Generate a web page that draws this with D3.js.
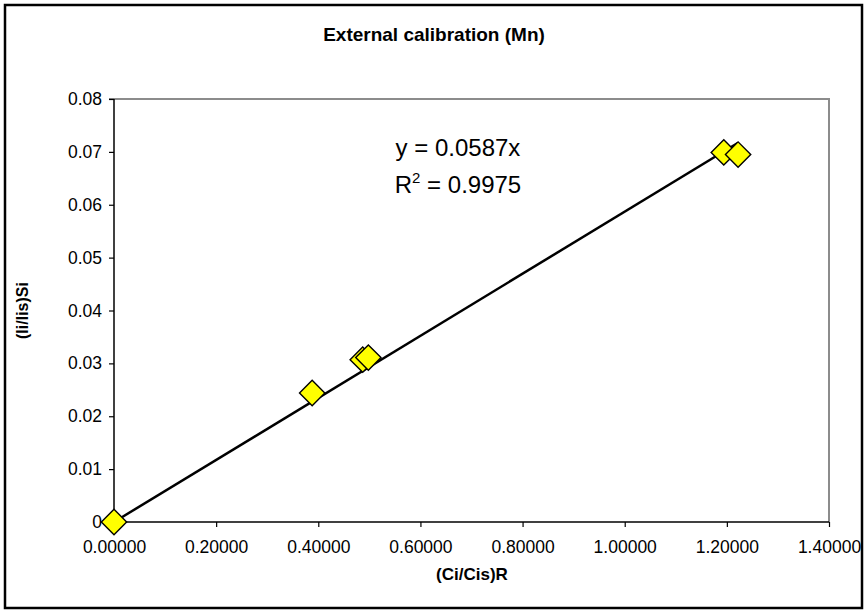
<!DOCTYPE html>
<html>
<head>
<meta charset="utf-8">
<script src="https://d3js.org/d3.v7.min.js"></script>
<style>
html, body { margin: 0; background: #fff; font-family: Arial, 'Liberation Sans', sans-serif; }
svg { display: block; }
.tick text { font-size: 17.5px; font-family: Arial, 'Liberation Sans', sans-serif; fill: #000; }
</style>
</head>
<body>
<script>
// ratio (Ci/Cis)R and signal (Ii/Iis)Si
var xVals = [0.0, 0.388, 0.487, 0.498, 1.194, 1.222];
var yVals = [0.0, 0.0244, 0.0307, 0.0311, 0.0699, 0.0695];
var slope = 0.0587;
var xTicks = [0, 0.2, 0.4, 0.6, 0.8, 1.0, 1.2, 1.4];
var yTicks = [0, 0.01, 0.02, 0.03, 0.04, 0.05, 0.06, 0.07, 0.08];

var W = 868, H = 615;
var margin = {top: 99, right: 39, bottom: 93, left: 114};
var width = W - margin.left - margin.right,
    height = H - margin.top - margin.bottom;

var svg = d3.select("body").append("svg")
  .attr("width", W)
  .attr("height", H);

// outer frame
svg.append("rect")
  .attr("x", 5).attr("y", 5)
  .attr("width", W - 11).attr("height", H - 12)
  .attr("fill", "none").attr("stroke", "#000").attr("stroke-width", 2.5);

var g = svg.append("g")
  .attr("transform", "translate(" + margin.left + "," + margin.top + ")");

var x = d3.scaleLinear().domain([0, 1.4]).range([0, width]);
var y = d3.scaleLinear().domain([0, 0.08]).range([height, 0]);

// plot area frame: gray top/right
g.append("path")
  .attr("d", "M" + (-5) + ",0H" + width + "V" + height)
  .attr("fill", "none").attr("stroke", "#8c8c8c").attr("stroke-width", 2);

g.append("g")
  .attr("transform", "translate(0," + height + ")")
  .call(d3.axisBottom(x).tickValues(xTicks).tickSize(5).tickPadding(14)
    .tickFormat(function(d) { return d.toFixed(5); }))
  .call(function(a) {
    a.select(".domain").attr("stroke-width", 1.5).attr("d", "M0,0H" + width);
    a.selectAll(".tick line").attr("stroke-width", 1.2);
  });

g.append("g")
  .call(d3.axisLeft(y).tickValues(yTicks).tickSize(5).tickPadding(7)
    .tickFormat(function(d) { return d === 0 ? "0" : d3.format(".2f")(d); }))
  .call(function(a) {
    a.select(".domain").attr("stroke-width", 1.5).attr("d", "M0," + height + "V0");
    a.selectAll(".tick line").attr("stroke-width", 1.2);
  });

// trend line y = slope * x over the data range
var xMax = d3.max(xVals);
g.append("line")
  .attr("x1", x(0)).attr("y1", y(0))
  .attr("x2", x(xMax)).attr("y2", y(slope * xMax))
  .attr("stroke", "#000").attr("stroke-width", 2.5);

// diamonds
var diamond = d3.symbol().type(d3.symbolSquare).size(320);
g.selectAll(".pt")
  .data(d3.range(xVals.length))
  .enter().append("path")
  .attr("class", "pt")
  .attr("d", diamond)
  .attr("transform", function(i) {
    return "translate(" + x(xVals[i]) + "," + y(yVals[i]) + ") rotate(45)";
  })
  .attr("fill", "#ffff00")
  .attr("stroke", "#000")
  .attr("stroke-width", 1.4);

// title
svg.append("text")
  .attr("x", 434).attr("y", 41)
  .attr("text-anchor", "middle")
  .attr("font-size", 19).attr("font-weight", "bold")
  .text("External calibration (Mn)");

// axis titles
svg.append("text")
  .attr("x", 472).attr("y", 580)
  .attr("text-anchor", "middle")
  .attr("font-size", 17).attr("font-weight", "bold")
  .text("(Ci/Cis)R");

svg.append("text")
  .attr("transform", "translate(28," + (margin.top + height / 2) + ") rotate(-90)")
  .attr("text-anchor", "middle")
  .attr("font-size", 16).attr("font-weight", "bold")
  .text("(Ii/Iis)Si");

// equation
svg.append("text")
  .attr("x", 458).attr("y", 156)
  .attr("text-anchor", "middle")
  .attr("font-size", 24)
  .text("y = 0.0587x");

var r2 = svg.append("text")
  .attr("x", 458).attr("y", 193)
  .attr("text-anchor", "middle")
  .attr("font-size", 24);
r2.append("tspan").text("R");
r2.append("tspan").attr("font-size", 15).attr("dy", -10).text("2");
r2.append("tspan").attr("dy", 10).text(" = 0.9975");
</script>
</body>
</html>
